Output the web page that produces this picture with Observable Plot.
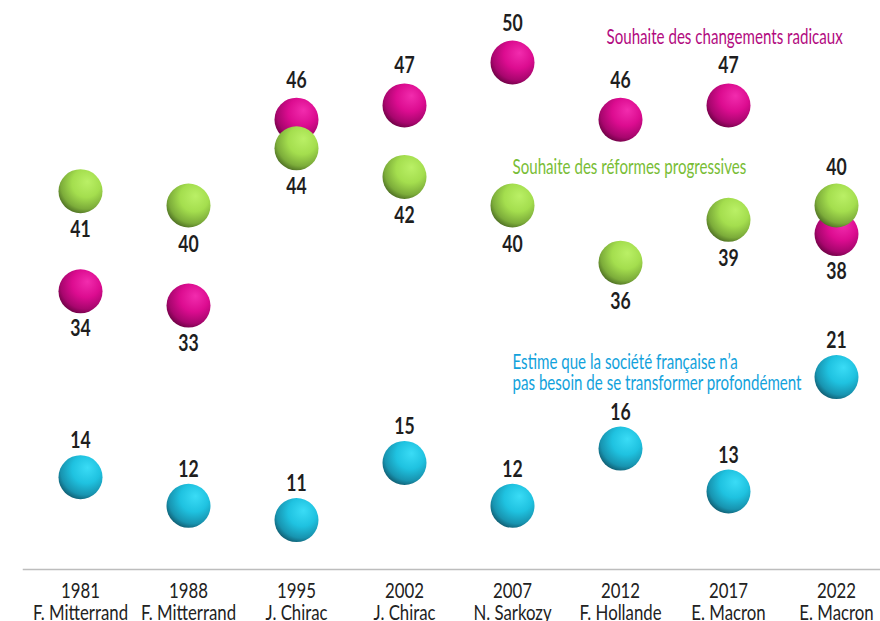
<!DOCTYPE html>
<html><head><meta charset="utf-8">
<script src="https://cdn.jsdelivr.net/npm/d3@7"></script>
<script src="https://cdn.jsdelivr.net/npm/@observablehq/plot@0.6"></script>
<style>body{margin:0;background:#fff} #chart svg{display:block}</style>
</head><body><div id="chart"></div>
<script>
const years = ["1981","1988","1995","2002","2007","2012","2017","2022"];
const presidents = ["F. Mitterrand","F. Mitterrand","J. Chirac","J. Chirac","N. Sarkozy","F. Hollande","E. Macron","E. Macron"];
const radical = [34,33,46,47,50,46,47,38];
const progressive = [41,40,44,42,40,36,39,40];
const noChange = [14,12,11,15,12,16,13,21];
const seriesLabels = {
  radical: "Souhaite des changements radicaux",
  progressive: "Souhaite des réformes progressives",
  noChange: "Estime que la société française n’a\npas besoin de se transformer profondément"
};

// axis break: the bottom series is drawn shifted up by this many points
const breakOffset = 7;

const rows = years.map((year, i) => ({
  year, president: presidents[i],
  radical: radical[i], progressive: progressive[i], noChange: noChange[i],
  noChangeShown: noChange[i] + breakOffset
}));
// label placement: green label goes above only when it overlaps and sits above the magenta ball
const greenAbove = d => d.progressive > d.radical && d.progressive - d.radical < 4;
const magAbove = d => d.radical > d.progressive;

const FONT = "Lato, 'Open Sans', sans-serif";

const gradients = {
  gMag: ["#f22cae", "#dc0c90", "#a8066e", "#5c0038"],
  gGreen: ["#baf066", "#a4de4e", "#7cac3a", "#3f5c1c"],
  gCyan: ["#3adcf6", "#1fc2e0", "#1894b0", "#0e4c5e"]
};

function defs() {
  const d = d3.create("svg:defs");
  for (const [id, c] of Object.entries(gradients)) {
    const g = d.append("radialGradient").attr("id", id)
      .attr("cx", "0.6").attr("cy", "0.36").attr("r", "0.72")
      .attr("fx", "0.66").attr("fy", "0.28");
    g.append("stop").attr("offset", "0").attr("stop-color", c[0]);
    g.append("stop").attr("offset", "0.45").attr("stop-color", c[1]);
    g.append("stop").attr("offset", "0.78").attr("stop-color", c[2]);
    g.append("stop").attr("offset", "1").attr("stop-color", c[3]);
  }
  return d.node();
}

const numStyle = {fontSize: 22, fontWeight: "bold", fill: "#1e1e1e", className: "num"};
const annStyle = {fontSize: 21, textAnchor: "start", className: "ann"};

const chart = Plot.plot({
  width: 880,
  height: 621,
  marginLeft: 23,
  marginRight: 0,
  marginTop: 0,
  marginBottom: 52,
  style: {fontFamily: FONT, background: "#fff"},
  x: {type: "point", domain: years, range: [78, 838], padding: 0, label: null},
  y: {domain: [0, 50], range: [777, 62], axis: null},
  marks: [
    defs,
    Plot.frame({anchor: "bottom", stroke: "#bdbdbd", strokeWidth: 1.5}),
    Plot.axisX({
      tickSize: 0, tickPadding: 13, fontSize: 21, lineHeight: 1.05, fill: "#222", className: "tick",
      tickFormat: d => d + "\n" + presidents[years.indexOf(d)]
    }),
    Plot.dot(rows, {x: "year", y: "radical", r: 22, fill: "url(#gMag)"}),
    Plot.dot(rows, {x: "year", y: "progressive", r: 22, fill: "url(#gGreen)"}),
    Plot.dot(rows, {x: "year", y: "noChangeShown", r: 22, fill: "url(#gCyan)"}),
    Plot.text(rows, {filter: magAbove, x: "year", y: "radical", text: d => String(d.radical), dy: -39, ...numStyle}),
    Plot.text(rows, {filter: d => !magAbove(d), x: "year", y: "radical", text: d => String(d.radical), dy: 38, ...numStyle}),
    Plot.text(rows, {filter: greenAbove, x: "year", y: "progressive", text: d => String(d.progressive), dy: -38, ...numStyle}),
    Plot.text(rows, {filter: d => !greenAbove(d), x: "year", y: "progressive", text: d => String(d.progressive), dy: 39, ...numStyle}),
    Plot.text(rows, {x: "year", y: "noChangeShown", text: d => String(d.noChange), dy: -36, ...numStyle}),
    Plot.text([seriesLabels.radical], {x: [years[5]], y: [d3.max(radical)], text: d => d, dx: -14, dy: -25, fill: "#b20a80", ...annStyle}),
    Plot.text([seriesLabels.progressive], {x: [years[4]], y: [progressive[4]], text: d => d, dx: 0, dy: -38, fill: "#78bd35", ...annStyle}),
    Plot.text([seriesLabels.noChange], {x: [years[4]], y: [d3.max(noChange) + breakOffset], text: d => d, dx: 0, dy: -4, lineHeight: 1.0, fill: "#12a2dc", ...annStyle})
  ]
});
document.getElementById("chart").append(chart);

// condensed type: narrow each text horizontally around its anchor
const condense = {num: 0.8, ann: 0.72, tick: 0.8};
for (const [cls, k] of Object.entries(condense)) {
  chart.querySelectorAll(`g.${cls} text, g[aria-label="x-axis tick label"] text`).forEach(t => {
    if (t.dataset.condensed) return;
    const g = t.closest("g");
    if (cls === "tick" && !(g && (g.classList.contains("tick") || g.getAttribute("aria-label") === "x-axis tick label"))) return;
    if (cls !== "tick" && !(g && g.classList.contains(cls))) return;
    t.dataset.condensed = "1";
    t.setAttribute("transform", (t.getAttribute("transform") || "") + ` scale(${k},1)`);
  });
}
</script>
</body></html>
